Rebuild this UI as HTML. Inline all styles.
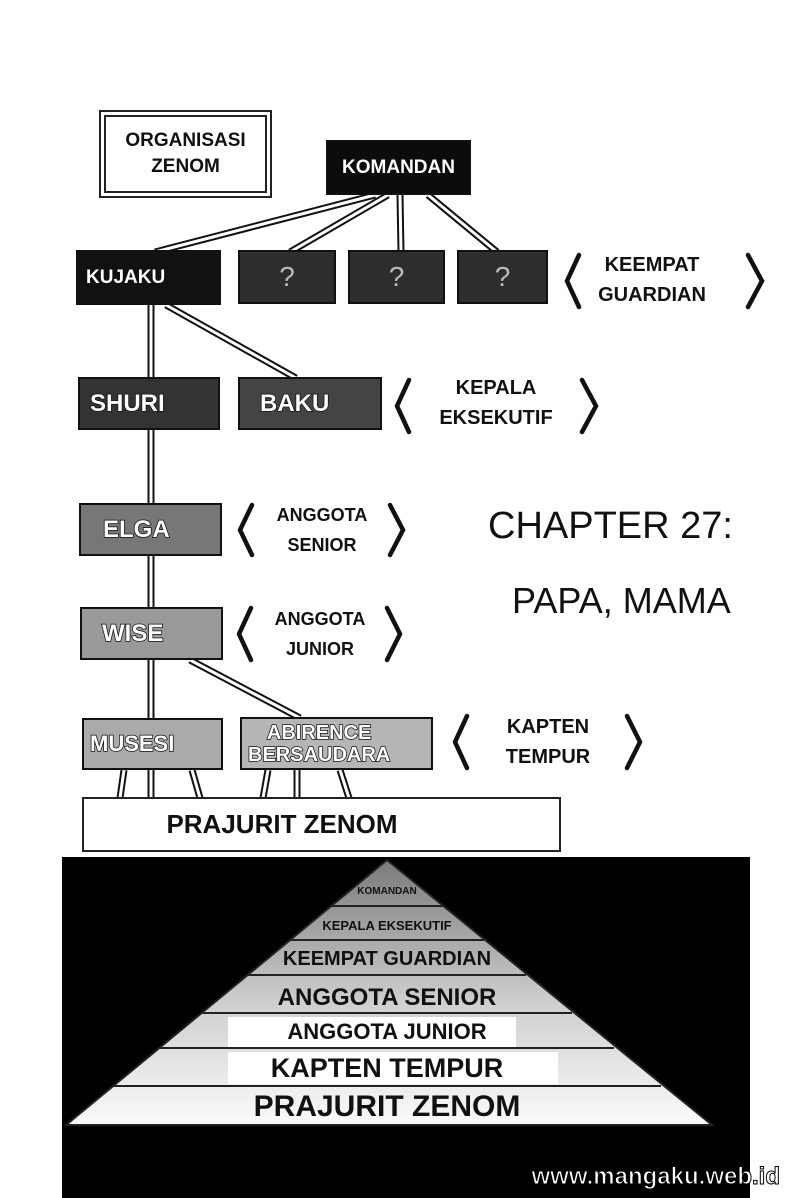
<!DOCTYPE html>
<html><head><meta charset="utf-8"><style>
body{margin:0;width:800px;height:1198px;background:#fff;position:relative;overflow:hidden;font-family:"Liberation Sans",sans-serif}
.b{position:absolute;box-sizing:border-box;border:2px solid #111;color:#fff;font-weight:bold;display:flex;align-items:center;font-family:"Liberation Sans",sans-serif}
.t{position:absolute;font-weight:bold;text-align:center;font-size:20px;line-height:30px;color:#111;font-family:"Liberation Sans",sans-serif}
.o{-webkit-text-stroke:1.5px #111;paint-order:stroke fill;font-size:24px;padding-left:10px}
.q{justify-content:center;font-size:28px;color:#bbb;font-weight:normal}
</style></head><body>
<svg width="800" height="1198" style="position:absolute;left:0;top:0">
<g stroke="#111" stroke-width="7" fill="none">
<line x1="375" y1="195" x2="155" y2="252"/><line x1="388" y1="195" x2="290" y2="252"/><line x1="400" y1="195" x2="401" y2="252"/><line x1="428" y1="195" x2="497" y2="252"/>
<line x1="151" y1="305" x2="151" y2="798"/><line x1="166" y1="305" x2="296" y2="378"/><line x1="190" y1="660" x2="300" y2="718"/>
<line x1="124" y1="770" x2="120" y2="798"/><line x1="192" y1="770" x2="200" y2="798"/><line x1="268" y1="770" x2="263" y2="798"/><line x1="297" y1="770" x2="297" y2="798"/><line x1="340" y1="770" x2="349" y2="798"/>
</g>
<g stroke="#fff" stroke-width="3" fill="none">
<line x1="375" y1="195" x2="155" y2="252"/><line x1="388" y1="195" x2="290" y2="252"/><line x1="400" y1="195" x2="401" y2="252"/><line x1="428" y1="195" x2="497" y2="252"/>
<line x1="151" y1="305" x2="151" y2="798"/><line x1="166" y1="305" x2="296" y2="378"/><line x1="190" y1="660" x2="300" y2="718"/>
<line x1="124" y1="770" x2="120" y2="798"/><line x1="192" y1="770" x2="200" y2="798"/><line x1="268" y1="770" x2="263" y2="798"/><line x1="297" y1="770" x2="297" y2="798"/><line x1="340" y1="770" x2="349" y2="798"/>
</g>
<g stroke="#111" stroke-width="4.5" fill="none" stroke-linecap="round">
<polyline points="579,255 567,281 579,307"/><polyline points="748,255 762,281 748,307"/>
<polyline points="409,380 397,406 409,432"/><polyline points="582,380 596,406 582,432"/>
<polyline points="252,505 240,530 252,555"/><polyline points="390,505 403,530 390,555"/>
<polyline points="251,608 239,634 251,660"/><polyline points="387,608 400,634 387,660"/>
<polyline points="467,716 455,742 467,768"/><polyline points="627,716 640,742 627,768"/>
</g>
<rect x="62" y="857" width="688" height="341" fill="#000"/>
<defs><linearGradient id="g" x1="0" y1="0" x2="0" y2="1"><stop offset="0" stop-color="#7a7a7a"/><stop offset="0.55" stop-color="#d0d0d0"/><stop offset="1" stop-color="#fafafa"/></linearGradient></defs>
<polygon points="387,860 712,1125 66,1125" fill="url(#g)" stroke="#222" stroke-width="2"/>
<rect x="228" y="1017" width="288" height="30" fill="#fff"/>
<rect x="228" y="1052" width="330" height="32" fill="#fff"/>
<g stroke="#222" stroke-width="2">
<line x1="330" y1="906" x2="444" y2="906"/><line x1="290" y1="940" x2="484" y2="940"/><line x1="248" y1="975" x2="526" y2="975"/><line x1="202" y1="1013" x2="572" y2="1013"/><line x1="160" y1="1048" x2="614" y2="1048"/><line x1="113" y1="1086" x2="661" y2="1086"/>
</g>
<g font-family="Liberation Sans, sans-serif" font-weight="bold" text-anchor="middle" fill="#111">
<text x="387" y="894" font-size="10">KOMANDAN</text>
<text x="387" y="930" font-size="13">KEPALA EKSEKUTIF</text>
<text x="387" y="965" font-size="20">KEEMPAT GUARDIAN</text>
<text x="387" y="1005" font-size="24">ANGGOTA SENIOR</text>
<text x="387" y="1039" font-size="22">ANGGOTA JUNIOR</text>
<text x="387" y="1077" font-size="27">KAPTEN TEMPUR</text>
<text x="387" y="1116" font-size="30">PRAJURIT ZENOM</text>
</g>
<text x="780" y="1184" text-anchor="end" font-family="Liberation Sans, sans-serif" font-weight="bold" font-size="24" fill="#fff" stroke="#000" stroke-width="1">www.mangaku.web.id</text>
</svg>
<div style="position:absolute;left:99px;top:110px;width:173px;height:88px;box-sizing:border-box;border:2px solid #222;padding:3px"><div style="border:2px solid #222;height:100%;box-sizing:border-box"></div></div>
<div class="t" style="left:99px;top:128px;width:173px;line-height:26px;font-size:19px">ORGANISASI<br>ZENOM</div>
<div class="b" style="left:326px;top:140px;width:145px;height:55px;background:#0c0c0c;justify-content:center;font-size:19px">KOMANDAN</div>
<div class="b" style="left:76px;top:250px;width:145px;height:55px;background:#111;font-size:19px;padding-left:8px">KUJAKU</div>
<div class="b q" style="left:238px;top:250px;width:98px;height:54px;background:#2e2e2e">?</div>
<div class="b q" style="left:348px;top:250px;width:97px;height:54px;background:#2e2e2e">?</div>
<div class="b q" style="left:457px;top:250px;width:91px;height:54px;background:#2e2e2e">?</div>
<div class="t" style="left:592px;top:250px;width:120px">KEEMPAT<br>GUARDIAN</div>
<div class="b o" style="left:78px;top:377px;width:142px;height:53px;background:#333">SHURI</div>
<div class="b o" style="left:238px;top:377px;width:144px;height:53px;background:#444;padding-left:20px">BAKU</div>
<div class="t" style="left:428px;top:373px;width:136px">KEPALA<br>EKSEKUTIF</div>
<div class="b o" style="left:79px;top:503px;width:143px;height:53px;background:#777;padding-left:22px">ELGA</div>
<div class="t" style="left:262px;top:500px;width:120px;font-size:18px">ANGGOTA<br>SENIOR</div>
<div class="b o" style="left:80px;top:607px;width:143px;height:53px;background:#999;padding-left:20px">WISE</div>
<div class="t" style="left:260px;top:604px;width:120px;font-size:18px">ANGGOTA<br>JUNIOR</div>
<div class="b o" style="left:82px;top:718px;width:141px;height:52px;background:#aaa;padding-left:6px;font-size:22px">MUSESI</div>
<div class="b o" style="left:240px;top:717px;width:193px;height:53px;background:#b5b5b5;padding-left:6px;font-size:20px;line-height:22px;text-align:center">ABIRENCE<br>BERSAUDARA</div>
<div class="t" style="left:488px;top:712px;width:120px">KAPTEN<br>TEMPUR</div>
<div style="position:absolute;left:82px;top:797px;width:479px;height:55px;box-sizing:border-box;border:2px solid #222;background:#fff"></div>
<div class="t" style="left:82px;top:809px;width:400px;font-size:26px">PRAJURIT ZENOM</div>
<div style="position:absolute;left:488px;top:505px;font-size:38px;color:#111;font-family:'Liberation Sans',sans-serif">CHAPTER 27:</div>
<div style="position:absolute;left:512px;top:580px;font-size:36px;color:#111;font-family:'Liberation Sans',sans-serif">PAPA, MAMA</div>
</body></html>
